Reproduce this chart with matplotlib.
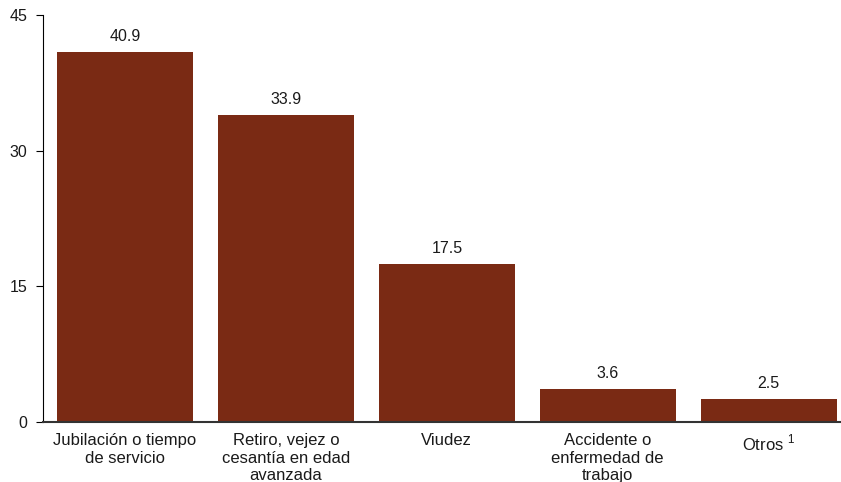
import matplotlib.pyplot as plt

# --------- Data ---------
categories = ['Jubilación o tiempo\nde servicio',
              'Retiro, vejez o\ncesantía en edad\navanzada',
              'Viudez',
              'Accidente o\nenfermedad de\ntrabajo',
              'Otros $^{1}$']
values = [40.9, 33.9, 17.5, 3.6, 2.5]
yticks = [0, 15, 30, 45]

BAR_COLOR = '#7a2a14'

plt.rcParams['font.family'] = ['Liberation Sans', 'DejaVu Sans']
plt.rcParams['mathtext.fontset'] = 'custom'
plt.rcParams['mathtext.rm'] = 'Liberation Sans'

fig = plt.figure(figsize=(8.41, 4.82), dpi=100)
ax = fig.add_axes([0.0511, 0.1245, 0.9489, 0.8444])

x = range(len(values))
bars = ax.bar(x, values, width=0.845, color=BAR_COLOR, zorder=2)

for b, v in zip(bars, values):
    ax.text(b.get_x() + b.get_width() / 2, v + 0.9, f'{v:.1f}',
            ha='center', va='bottom', fontsize=11.5, color='#1a1a1a')

ax.set_ylim(0, 45)
ax.set_xlim(-0.51, 4.45)
ax.set_yticks(yticks)
ax.set_yticklabels([str(t) for t in yticks], fontsize=11.5, color='#1a1a1a')
ax.set_xticks(list(x))
ax.set_xticklabels(categories, fontsize=12, linespacing=1.2, color='#1a1a1a')
ax.tick_params(axis='x', length=0, pad=8)
ax.tick_params(axis='y', length=5, direction='out', pad=6, width=0.8)

for s in ['top', 'right']:
    ax.spines[s].set_visible(False)
ax.spines['left'].set_color('black')
ax.spines['left'].set_linewidth(0.8)
ax.spines['bottom'].set_color('#333333')
ax.spines['bottom'].set_linewidth(1.5)

plt.savefig('out.png', dpi=100)
